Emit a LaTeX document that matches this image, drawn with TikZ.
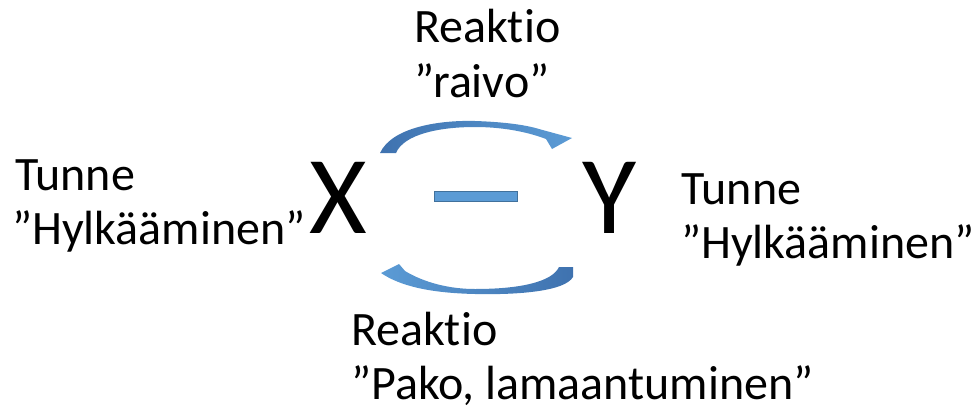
\documentclass[tikz,border=0pt]{standalone}
\usepackage{fontspec}
\setmainfont{Carlito}[Ligatures={NoCommon,NoContextual}]
\definecolor{arrowlight}{HTML}{5B9BD5}
\definecolor{arrowdark}{HTML}{3F72AF}
\definecolor{barline}{HTML}{41719C}
\tikzset{
  label/.style={font=\fontsize{48}{56}\selectfont, inner sep=0pt, anchor=base west},
  letter/.style={font=\fontsize{111}{120}\selectfont, inner sep=0pt, anchor=base west},
}
\begin{document}
\begin{tikzpicture}[x=1pt, y=-1pt]
\useasboundingbox (0,0) rectangle (975,410);

% reaction labels above and below
\node[label] (topA) at (414,42) {Reaktio};
\node[label] (topB) at (414,97) {”raivo”};
\node[label] (botA) at (351,345) {Reaktio};
\node[label] (botB) at (351,399) {”Pako, lamaantuminen”};

% feeling labels on both sides
\node[label] (leftA) at (15,190) {Tunne};
\node[label] (leftB) at (12,244) {”Hylkääminen”};
\node[label] (rightA) at (681,204) {Tunne};
\node[label] (rightB) at (681,258) {”Hylkääminen”};

% the two parties
\node[letter] (X) at (309,233) {X};
\node[letter] (Y) at (582,233) {Y};

% dash between them
\filldraw[fill=arrowlight, draw=barline, line width=0.6pt] (434,191) rectangle (517,201);

% curved arrow from X to Y (top)
\shade[left color=arrowdark, right color=arrowlight]
  (380,153) .. controls (392,127) and (440,120) .. (475,121)
  .. controls (505,122) and (526,125) .. (539,129)
  -- (572,138) -- (552,149) -- (546,139)
  .. controls (525,131) and (500,127) .. (475,127)
  .. controls (440,127) and (404,134) .. (396,153) -- cycle;

% curved arrow from Y to X (bottom)
\shade[right color=arrowdark, left color=arrowlight]
  (573,267) -- (573,277)
  .. controls (565,291) and (520,295) .. (475,294)
  .. controls (430,293) and (400,286) .. (381,273)
  -- (399,264) -- (405,271)
  .. controls (425,283) and (450,289) .. (475,289)
  .. controls (520,289) and (552,282) .. (559,267) -- cycle;
\end{tikzpicture}
\end{document}
